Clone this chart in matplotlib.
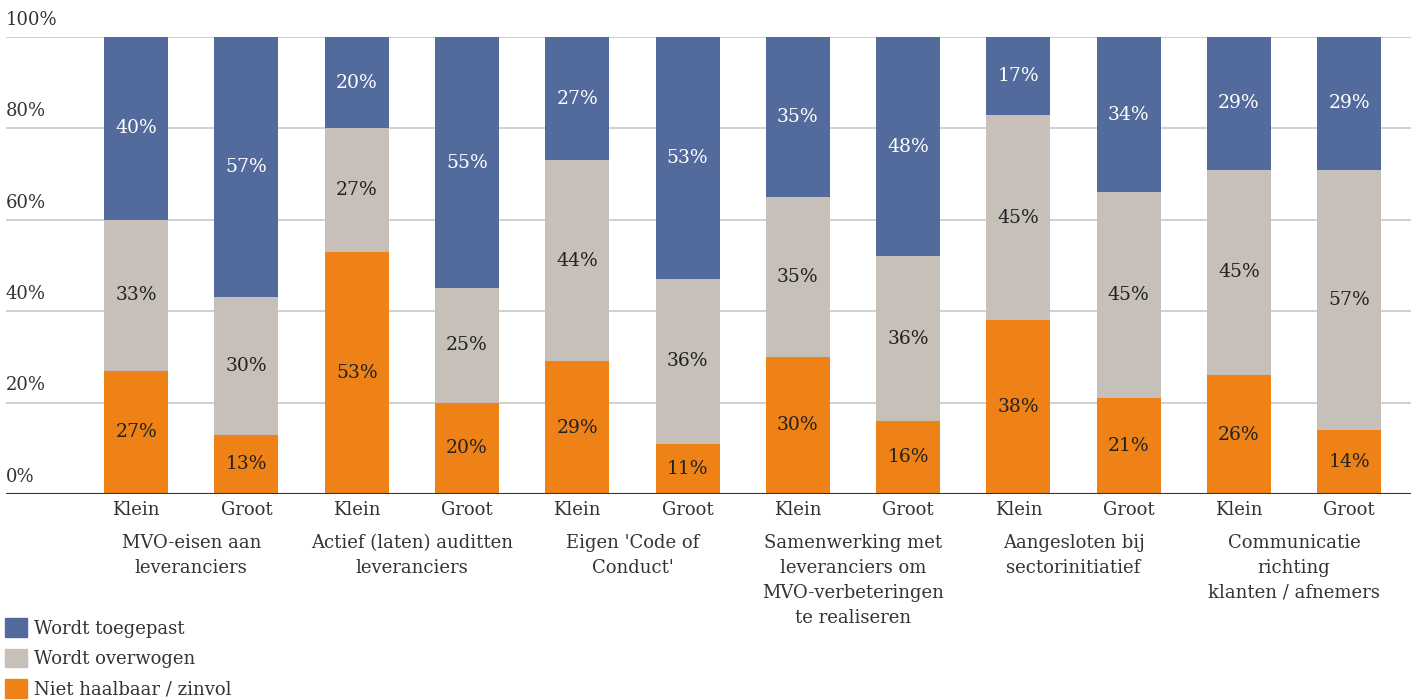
import numpy as np
import matplotlib.pyplot as plt
import matplotlib.transforms as mtransforms
from matplotlib.patches import Patch

plt.rcParams['font.family'] = ['DejaVu Serif']

# Data
bar_labels = ["Klein", "Groot"] * 6
groups = ["MVO-eisen aan\nleveranciers",
          "Actief (laten) auditten\nleveranciers",
          "Eigen 'Code of\nConduct'",
          "Samenwerking met\nleveranciers om\nMVO-verbeteringen\nte realiseren",
          "Aangesloten bij\nsectorinitiatief",
          "Communicatie\nrichting\nklanten / afnemers"]
niet_haalbaar = [27, 13, 53, 20, 29, 11, 30, 16, 38, 21, 26, 14]
overwogen     = [33, 30, 27, 25, 44, 36, 35, 36, 45, 45, 45, 57]
toegepast     = [40, 57, 20, 55, 27, 53, 35, 48, 17, 34, 29, 29]

blue = "#536a9c"
grey = "#c6c0b9"
orange = "#ef8216"
text_col = "#333333"

fig = plt.figure(figsize=(14.11, 7.0), dpi=100)
ax = fig.add_axes([6/1411, 1 - 494/700, 1 - 6/1411, (494 - 37)/700])

x = np.arange(len(bar_labels))
w = 0.58
bottoms = np.zeros(len(x))
for vals, col, tcol in [(niet_haalbaar, orange, "#222222"),
                        (overwogen, grey, "#222222"),
                        (toegepast, blue, "white")]:
    vals = np.array(vals)
    ax.bar(x, vals, w, bottom=bottoms, color=col, zorder=2)
    for xi, b, v in zip(x, bottoms, vals):
        ax.text(xi, b + v / 2, f"{v}%", ha="center", va="center",
                fontsize=13.5, color=tcol, zorder=3)
    bottoms = bottoms + vals

ax.set_xlim(-1.18, 11.56)
ax.set_ylim(0, 100)

# gridlines and y labels sitting above them
for yv in [20, 40, 60, 80, 100]:
    ax.axhline(yv, color="#c8c8c8", lw=1.2, zorder=1)
ax.axhline(0, color="#333333", lw=1.5, zorder=3)
ytrans = mtransforms.blended_transform_factory(ax.transAxes, ax.transData)
for yv in [0, 20, 40, 60, 80, 100]:
    ax.text(0, yv + 1.8, f"{yv}%", transform=ytrans, ha="left", va="bottom",
            fontsize=13, color=text_col)

for s in ax.spines.values():
    s.set_visible(False)
ax.set_yticks([])
ax.set_xticks(x)
ax.set_xticklabels(bar_labels, fontsize=13, color=text_col)
ax.tick_params(axis="x", length=0, pad=5)

xtrans = mtransforms.blended_transform_factory(ax.transData, ax.transAxes)
for i, g in enumerate(groups):
    ax.text(2 * i + 0.5, -0.087, g, transform=xtrans, ha="center", va="top",
            fontsize=13, color=text_col, linespacing=1.5)

handles = [Patch(color=blue, label="Wordt toegepast"),
           Patch(color=grey, label="Wordt overwogen"),
           Patch(color=orange, label="Niet haalbaar / zinvol")]
leg = fig.legend(handles=handles, loc="upper left", bbox_to_anchor=(0.0, 1 - 613/700),
                 frameon=False, fontsize=13, handlelength=1.2, handleheight=1.2,
                 handletextpad=0.4, labelspacing=0.62, borderaxespad=0, borderpad=0.3)
for t in leg.get_texts():
    t.set_color(text_col)

fig.savefig("out.png", dpi=100)
